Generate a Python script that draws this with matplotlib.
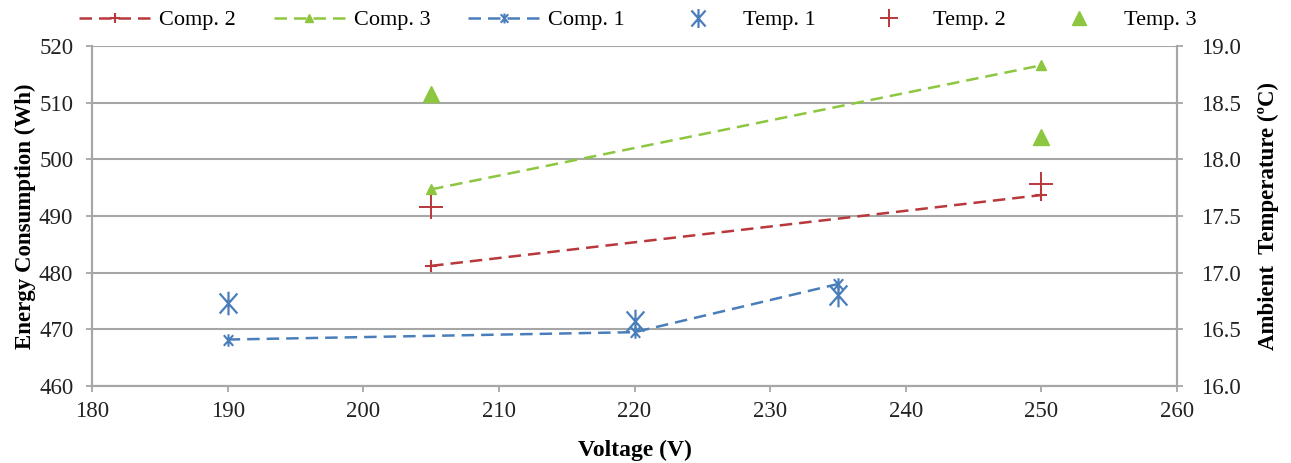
import matplotlib.pyplot as plt
from matplotlib.path import Path

plt.rcParams['font.family'] = ['Liberation Serif', 'DejaVu Serif']

# energy consumption per compressor (Wh)
volt_c1 = [190, 220, 235]
energy_c1 = [468.2, 469.5, 478.0]
volt_c2 = [205, 250]
energy_c2 = [481.2, 493.7]
volt_c3 = [205, 250]
energy_c3 = [494.7, 516.6]

# ambient temperature during each test (deg C)
volt_t1 = [190, 220, 235]
temp_t1 = [16.73, 16.57, 16.80]
volt_t2 = [205, 250]
temp_t2 = [17.58, 17.78]
volt_t3 = [205, 250]
temp_t3 = [18.58, 18.20]

blue = '#4A7EBB'
red = '#B8383B'
green = '#8DC63F'
grey = '#A6A6A6'

# Excel style "star": an X with a vertical bar
star = Path([(0, -1), (0, 1), (-0.75, -0.85), (0.75, 0.85), (-0.75, 0.85), (0.75, -0.85)],
            [Path.MOVETO, Path.LINETO, Path.MOVETO, Path.LINETO, Path.MOVETO, Path.LINETO])

fig, ax = plt.subplots(figsize=(12.91, 4.63), dpi=100)
fig.subplots_adjust(left=0.0713, right=0.9117, top=0.9006, bottom=0.1663)
ax2 = ax.twinx()

dash = (5, 2.8)
l2, = ax.plot(volt_c2, energy_c2, '--', dashes=dash, color=red, lw=1.8, marker='+', ms=9, mew=1.5, label='Comp. 2')
l3, = ax.plot(volt_c3, energy_c3, '--', dashes=dash, color=green, lw=1.8, marker='^', ms=7, label='Comp. 3')
l1, = ax.plot(volt_c1, energy_c1, '--', dashes=dash, color=blue, lw=1.8, marker=star, ms=9, mew=1.5, label='Comp. 1')

t1, = ax2.plot(volt_t1, temp_t1, ls='none', color=blue, marker=star, ms=17, mew=1.6, label='Temp. 1')
t2, = ax2.plot(volt_t2, temp_t2, ls='none', color=red, marker='+', ms=17, mew=1.4, label='Temp. 2')
t3, = ax2.plot(volt_t3, temp_t3, ls='none', color=green, marker='^', ms=12, label='Temp. 3')

ax.set_xlim(180, 260)
ax.set_ylim(460, 520)
ax2.set_ylim(16.0, 19.0)
ax.set_xticks(range(180, 261, 10))
ax.set_yticks(range(460, 521, 10))
ax2.set_yticks([16.0, 16.5, 17.0, 17.5, 18.0, 18.5, 19.0])
ax2.set_yticklabels([f'{v:.1f}' for v in ax2.get_yticks()])

ax.grid(axis='y', color=grey, lw=1.5)
ax.set_axisbelow(True)
for a in (ax, ax2):
    for s in a.spines.values():
        s.set_color(grey)
        s.set_linewidth(1.5)
    a.spines['top'].set_visible(False)
    a.tick_params(labelsize=16.5, length=4.5, width=1.3, color=grey, labelcolor='#222222')
ax.tick_params(axis='y', pad=9)
ax.tick_params(axis='x', pad=6)
ax2.tick_params(axis='y', pad=13)

ax.set_xlabel('Voltage (V)', fontsize=17, fontweight='bold', labelpad=13)
ax.set_ylabel('Energy Consumption (Wh)', fontsize=16.5, fontweight='bold', labelpad=2)
ax2.set_ylabel('Ambient  Temperature (ºC)', fontsize=16.5, fontweight='bold', labelpad=12)

fig.legend(handles=[l2, l3, l1, t1, t2, t3], loc='upper center', ncol=6,
           bbox_to_anchor=(0.494, 1.022), frameon=False, fontsize=16,
           handlelength=3.2, handletextpad=0.4, columnspacing=1.7, markerscale=0.8)

fig.savefig('out.png', dpi=100)
